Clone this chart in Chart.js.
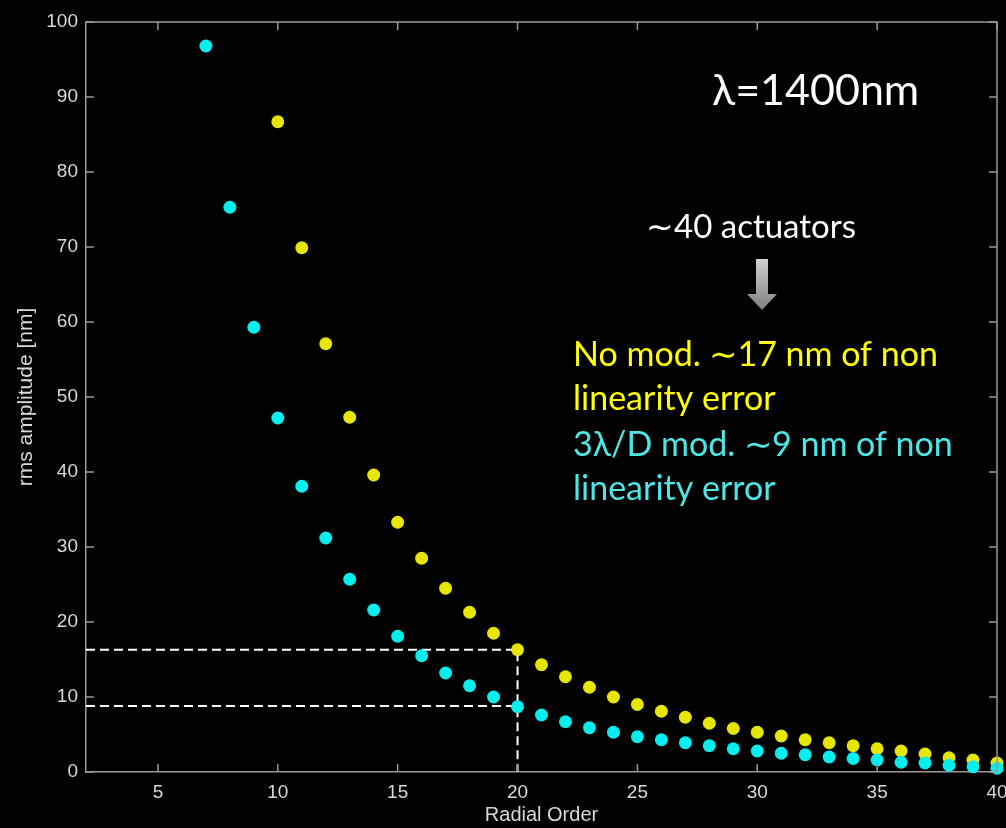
<!DOCTYPE html>
<html lang="en">

<head>
    <meta charset="UTF-8">
    <title>rms amplitude vs Radial Order</title>
    <script src="https://cdn.jsdelivr.net/npm/chart.js"></script>
    <style>
        body { margin: 0; background: #000; }
        #grafico { display: block; }
    </style>
</head>

<body>
    <canvas id="grafico" width="1006" height="828"></canvas>
</body>

</html>

<script>
    // ===================== dados =====================
    const ordemModulada = [7, 8, 9, 10, 11, 12, 13, 14, 15, 16, 17, 18, 19, 20, 21, 22, 23, 24, 25, 26, 27, 28, 29, 30, 31, 32, 33, 34, 35, 36, 37, 38, 39, 40];
    const rmsModulada = [96.8, 75.3, 59.3, 47.2, 38.1, 31.2, 25.7, 21.6, 18.1, 15.5, 13.2, 11.5, 10.0, 8.7, 7.6, 6.7, 5.9, 5.3, 4.7, 4.3, 3.9, 3.5, 3.1, 2.8, 2.5, 2.3, 2.0, 1.8, 1.6, 1.3, 1.2, 0.9, 0.7, 0.5];

    const ordemSemMod = [10, 11, 12, 13, 14, 15, 16, 17, 18, 19, 20, 21, 22, 23, 24, 25, 26, 27, 28, 29, 30, 31, 32, 33, 34, 35, 36, 37, 38, 39, 40];
    const rmsSemMod = [86.7, 69.9, 57.1, 47.3, 39.6, 33.3, 28.5, 24.5, 21.3, 18.5, 16.3, 14.3, 12.7, 11.3, 10.0, 9.0, 8.1, 7.3, 6.5, 5.8, 5.3, 4.8, 4.3, 3.9, 3.5, 3.1, 2.8, 2.4, 1.9, 1.6, 1.2];

    // linhas tracejadas de referência (ordem 20)
    const ordemCorte = 20;
    const erroSemMod = 16.3;
    const erroModulada = 8.8;

    // eixos
    const xMin = 2, xMax = 40;
    const yMin = 0, yMax = 100;
    const ticksX = [5, 10, 15, 20, 25, 30, 35, 40];
    const ticksY = [0, 10, 20, 30, 40, 50, 60, 70, 80, 90, 100];

    const corAmarelo = '#e6e600';
    const corCiano = '#00f0f0';
    const corEixo = '#999999';
    const corTexto = '#d8d8d8';

    function pontos(xs, ys) {
        return xs.map((x, i) => ({ x: x, y: ys[i] }));
    }

    // ticks para dentro + caixa fechada (estilo matlab) + anotações
    const caixaEAnotacoes = {
        id: 'caixaEAnotacoes',
        afterDraw(chart) {
            const ctx = chart.ctx;
            const area = chart.chartArea;
            const sx = chart.scales.x;
            const sy = chart.scales.y;
            const tam = 8;

            ctx.save();
            ctx.strokeStyle = corEixo;
            ctx.lineWidth = 1.5;
            ctx.beginPath();
            ctx.moveTo(area.left, area.top);
            ctx.lineTo(area.right, area.top);
            ctx.lineTo(area.right, area.bottom);
            ctx.stroke();

            ctx.beginPath();
            ticksX.forEach(v => {
                const px = sx.getPixelForValue(v);
                ctx.moveTo(px, area.bottom);
                ctx.lineTo(px, area.bottom - tam);
                ctx.moveTo(px, area.top);
                ctx.lineTo(px, area.top + tam);
            });
            ticksY.forEach(v => {
                const py = sy.getPixelForValue(v);
                ctx.moveTo(area.left, py);
                ctx.lineTo(area.left + tam, py);
                ctx.moveTo(area.right, py);
                ctx.lineTo(area.right - tam, py);
            });
            ctx.stroke();

            // textos
            ctx.textBaseline = 'alphabetic';
            ctx.textAlign = 'left';
            ctx.fillStyle = '#ffffff';
            ctx.font = '43px Lato';
            ctx.fillText('λ=1400nm', 712, 105);

            ctx.font = '33px Lato';
            ctx.fillText('∼40 actuators', 646, 238);

            ctx.font = '34px Lato';
            ctx.fillStyle = '#ffff00';
            ctx.fillText('No mod. ∼17 nm of non', 573, 366);
            ctx.fillText('linearity error', 573, 410);
            ctx.fillStyle = '#4de6e6';
            ctx.fillText('3λ/D mod. ∼9 nm of non', 573, 456);
            ctx.fillText('linearity error', 573, 500);

            // seta cinza
            const grad = ctx.createLinearGradient(0, 259, 0, 310);
            grad.addColorStop(0, '#d0d0d0');
            grad.addColorStop(1, '#808080');
            ctx.fillStyle = grad;
            ctx.beginPath();
            ctx.moveTo(756, 259);
            ctx.lineTo(768, 259);
            ctx.lineTo(768, 294);
            ctx.lineTo(777, 294);
            ctx.lineTo(762, 310);
            ctx.lineTo(747, 294);
            ctx.lineTo(756, 294);
            ctx.closePath();
            ctx.fill();
            ctx.restore();
        }
    };

    const grafico = new Chart(document.getElementById('grafico'), {
        type: 'scatter',
        data: {
            datasets: [
                {
                    label: '3λ/D mod.',
                    data: pontos(ordemModulada, rmsModulada),
                    backgroundColor: corCiano,
                    borderWidth: 0,
                    pointRadius: 6.5,
                    clip: false
                },
                {
                    label: 'No mod.',
                    data: pontos(ordemSemMod, rmsSemMod),
                    backgroundColor: corAmarelo,
                    borderWidth: 0,
                    pointRadius: 6.5,
                    clip: false
                },
                {
                    label: 'erro sem modulação',
                    data: [{ x: xMin, y: erroSemMod }, { x: ordemCorte, y: erroSemMod }, { x: ordemCorte, y: yMin }],
                    showLine: true,
                    borderColor: '#ffffff',
                    borderWidth: 2,
                    borderDash: [9, 5],
                    pointRadius: 0
                },
                {
                    label: 'erro com modulação',
                    data: [{ x: xMin, y: erroModulada }, { x: ordemCorte, y: erroModulada }],
                    showLine: true,
                    borderColor: '#ffffff',
                    borderWidth: 2,
                    borderDash: [9, 5],
                    pointRadius: 0
                }
            ]
        },
        options: {
            responsive: false,
            animation: false,
            devicePixelRatio: 1,
            layout: { padding: { top: 22, right: 9, left: 0, bottom: 0 } },
            plugins: {
                legend: { display: false },
                tooltip: { enabled: false }
            },
            scales: {
                x: {
                    type: 'linear',
                    min: xMin,
                    max: xMax,
                    afterBuildTicks: (scale) => { scale.ticks = ticksX.map(v => ({ value: v })); },
                    afterFit: (scale) => { scale.height = 56; scale.paddingLeft = 0; scale.paddingRight = 0; },
                    grid: { display: true, drawOnChartArea: false, drawTicks: false },
                    border: { display: true, color: corEixo, width: 1.5 },
                    ticks: { color: corTexto, font: { family: 'Liberation Sans', size: 19 }, padding: 9, maxRotation: 0 },
                    title: {
                        display: true,
                        text: 'Radial Order',
                        color: corTexto,
                        font: { family: 'Liberation Sans', size: 20 },
                        padding: { top: 0, bottom: 1 }
                    }
                },
                y: {
                    type: 'linear',
                    min: yMin,
                    max: yMax,
                    afterBuildTicks: (scale) => { scale.ticks = ticksY.map(v => ({ value: v })); },
                    afterFit: (scale) => { scale.width = 86; scale.paddingTop = 0; scale.paddingBottom = 0; },
                    grid: { display: true, drawOnChartArea: false, drawTicks: false },
                    border: { display: true, color: corEixo, width: 1.5 },
                    ticks: { color: corTexto, font: { family: 'Liberation Sans', size: 19 }, padding: 8 },
                    title: {
                        display: true,
                        text: 'rms amplitude [nm]',
                        color: corTexto,
                        font: { family: 'Liberation Sans', size: 21 },
                        padding: { top: 14, bottom: 0 }
                    }
                }
            }
        },
        plugins: [caixaEAnotacoes]
    });
</script>
